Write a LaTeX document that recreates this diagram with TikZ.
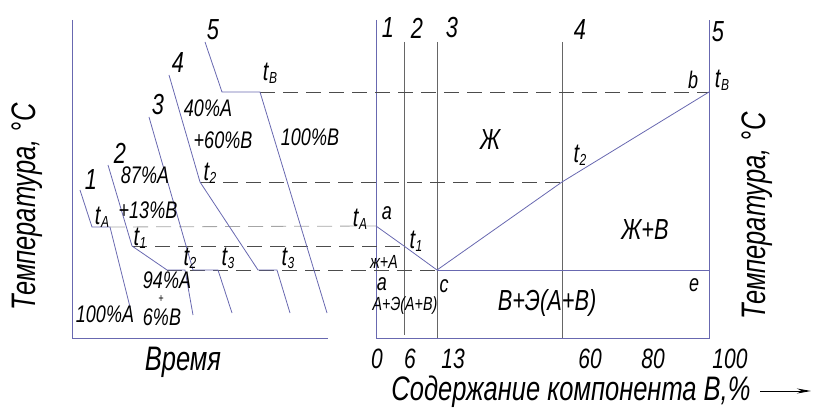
\documentclass[tikz,border=0pt]{standalone}
\usepackage{fontspec}
\setmainfont{Liberation Sans}[FakeStretch=0.75]
\usepackage{xcolor}
\usetikzlibrary{arrows.meta}

\definecolor{axisblue}{RGB}{104,104,176}
\newcommand{\tsym}[1]{t\kern0.5pt\raisebox{-3pt}{\fontsize{16}{16}\selectfont #1}}

\begin{document}
\begin{tikzpicture}[
    x=1pt,y=-1pt,
    axis/.style={draw=axisblue,line width=0.9pt},
    curve/.style={draw=axisblue,line width=0.8pt},
    gridline/.style={draw=black!60,line width=0.8pt},
    guide/.style={draw=black!70,line width=0.8pt,dash pattern=on 15pt off 8pt},
    guidelight/.style={guide,draw=black!35},
    lbl/.style={inner sep=0pt,font=\itshape\fontsize{24}{24}\selectfont},
    smalllbl/.style={inner sep=0pt,font=\itshape\fontsize{19}{19}\selectfont},
    pluslbl/.style={inner sep=0pt,font=\itshape\fontsize{12}{12}\selectfont},
    biglbl/.style={inner sep=0pt,font=\itshape\fontsize{29}{29}\selectfont},
    numlbl/.style={inner sep=0pt,font=\itshape\fontsize{28}{28}\selectfont},
    title/.style={inner sep=0pt,font=\itshape\fontsize{34}{34}\selectfont},
    tlbl/.style={inner sep=0pt,font=\itshape\fontsize{27}{27}\selectfont},
    arrow/.style={-{Stealth[length=14pt,width=5pt]},line width=0.9pt}
]
\useasboundingbox (0,0) rectangle (814,409);

% time axes
\coordinate (tTop) at (72,20);
\coordinate (tO) at (72,338);
\coordinate (tEnd) at (328,338);
\draw[axis] (tTop) -- (tO) -- (tEnd);

% composition axes
\coordinate (cTop) at (376,20);
\coordinate (cO) at (376,338);
\coordinate (cEnd) at (709,338);
\coordinate (cEndTop) at (709,20);
\draw[axis] (cTop) -- (cO) -- (cEnd) -- (cEndTop);

% alloy verticals 2, 3, 4
\coordinate (v2t) at (404,42);  \coordinate (v2b) at (404,335);
\coordinate (v3t) at (437,42);  \coordinate (v3b) at (437,338);
\coordinate (v4t) at (562,42);  \coordinate (v4b) at (562,338);
\draw[gridline] (v2t) -- (v2b);
\draw[gridline] (v3t) -- (v3b);
\draw[gridline] (v4t) -- (v4b);

% phase diagram points
\coordinate (pa) at (376,226);
\coordinate (pt1) at (404,246);
\coordinate (pc) at (437,270);
\coordinate (pt2) at (562,182);
\coordinate (pb) at (709,92);
\coordinate (pe) at (709,270);

% cooling curves
\coordinate (c1s) at (80,190);  \coordinate (c1a) at (92,227);
\coordinate (c1b) at (110,227); \coordinate (c1e) at (130,307);
\coordinate (c2s) at (108,165); \coordinate (c2a) at (132,246);
\coordinate (c2b) at (167,270); \coordinate (c2c) at (185,270);
\coordinate (c2e) at (193,315);
\coordinate (c3s) at (149,117); \coordinate (c3a) at (193,270);
\coordinate (c3b) at (218,270); \coordinate (c3e) at (232,313);
\coordinate (c4s) at (169,75);  \coordinate (c4a) at (200,182);
\coordinate (c4b) at (258,270); \coordinate (c4c) at (277,270);
\coordinate (c4e) at (290,313);
\coordinate (c5s) at (205,42);  \coordinate (c5a) at (222,92);
\coordinate (c5b) at (260,92);  \coordinate (c5e) at (327,313);

% temperature guides
\draw[guide] (c5b) -- (pb);
\draw[guide] (c4a) -- (pt2);
\draw[guidelight] (c1b) -- (pa);
\draw[guide] (c2a) -- (pt1);
\draw[guide] (c2b) -- (pc);

\draw[curve] (c1s) -- (c1a) -- (c1b) -- (c1e);
\draw[curve] (c2s) -- (c2a) -- (c2b) -- (c2c) -- (c2e);
\draw[curve] (c3s) -- (c3a) -- (c3b) -- (c3e);
\draw[curve] (c4s) -- (c4a) -- (c4b) -- (c4c) -- (c4e);
\draw[curve] (c5s) -- (c5a) -- (c5b) -- (c5e);

% liquidus and solidus
\draw[curve] (pa) -- (pt1) -- (pc) -- (pt2) -- (pb);
\draw[curve] (pc) -- (pe);

% curve numbers
\node[biglbl] (n1L) at (91,180) {1};
\node[biglbl] (n2L) at (120,153) {2};
\node[biglbl] (n3L) at (158,105) {3};
\node[biglbl] (n4L) at (178,63) {4};
\node[biglbl] (n5L) at (213,30) {5};
\node[biglbl] (n1R) at (388,28) {1};
\node[biglbl] (n2R) at (417,28) {2};
\node[biglbl] (n3R) at (452,28) {3};
\node[biglbl] (n4R) at (580,30) {4};
\node[biglbl] (n5R) at (718,32) {5};

% cooling curve labels
\node[lbl] (p40A) at (208,108) {40\%A};
\node[lbl] (p60B) at (223,140) {+60\%B};
\node[lbl] (p100B) at (310,137) {100\%B};
\node[lbl] (p87A) at (145,175) {87\%A};
\node[lbl] (p13B) at (148,210) {+13\%B};
\node[lbl] (p94A) at (167,280) {94\%A};
\node[pluslbl] (pplus) at (161,299) {+};
\node[lbl] (p100A) at (105,314) {100\%A};
\node[lbl] (p6B) at (162,317) {6\%B};
\node[tlbl] (tAL) at (102,217) {\tsym{A}};
\node[tlbl] (t1L) at (140,238) {\tsym{1}};
\node[tlbl] (t2Lo) at (190,258) {\tsym{2}};
\node[tlbl] (t3La) at (228,258) {\tsym{3}};
\node[tlbl] (t3Lb) at (288,258) {\tsym{3}};
\node[tlbl] (t2Lu) at (210,173) {\tsym{2}};
\node[tlbl] (tBL) at (270,73) {\tsym{B}};
\node[title] (time) at (183,362) {Время};

% phase diagram labels
\node[tlbl] (tAR) at (360,219) {\tsym{A}};
\node[lbl] (la1) at (387,213) {a};
\node[tlbl] (t1R) at (416,241) {\tsym{1}};
\node[smalllbl] (liqA) at (384,262) {ж+A};
\node[lbl] (la2) at (382,284) {a};
\node[smalllbl] (eutA) at (405,306) {A+Э(A+B)};
\node[lbl] (lc) at (444,286) {c};
\node[biglbl] (eutB) at (547,303) {B+Э(A+B)};
\node[biglbl] (liq) at (490,140) {Ж};
\node[tlbl] (t2R) at (580,155) {\tsym{2}};
\node[lbl] (lb) at (693,80) {b};
\node[tlbl] (tBR) at (722,80) {\tsym{B}};
\node[biglbl] (liqB) at (645,230) {Ж+B};
\node[lbl] (le) at (694,285) {e};

% composition scale
\node[numlbl] (x0) at (377,359) {0};
\node[numlbl] (x6) at (410,359) {6};
\node[numlbl] (x13) at (453,359) {13};
\node[numlbl] (x60) at (590,359) {60};
\node[numlbl] (x80) at (653,359) {80};
\node[numlbl] (x100) at (730,359) {100};
\node[title] (comp) at (571,392) {Содержание компонента В,\%};
\coordinate (arrS) at (760,391);
\coordinate (arrE) at (811,391);
\draw[arrow] (arrS) -- (arrE);

% temperature axes
\node[title,rotate=90] (tempL) at (27,207) {Температура, °С};
\node[title,rotate=90] (tempR) at (757,216) {Температура, °С};
\end{tikzpicture}
\end{document}
